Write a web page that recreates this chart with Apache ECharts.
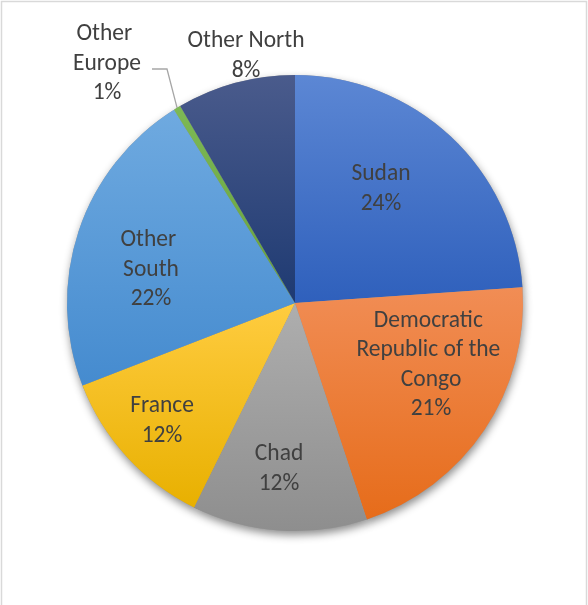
<!DOCTYPE html>
<html><head><meta charset="utf-8">
<script src="https://cdn.jsdelivr.net/npm/echarts@6/dist/echarts.min.js"></script>
<style>html,body{margin:0;padding:0;background:#fff}#c{width:588px;height:605px}</style>
</head><body><div id="c"></div>
<script>
// ---- data ----
const categories = ['Sudan', 'Democratic Republic of the Congo', 'Chad', 'France', 'Other South', 'Other Europe', 'Other North'];
const shares = [23.9, 21.0, 12.4, 11.8, 22.0, 0.5, 8.4];

// ---- styles (kept separate from data) ----
const gradTop    = ['#5C87D4', '#F18D55', '#AEAEAE', '#FFCC40', '#6FAAE0', '#7DB955', '#4A5B8C'];
const gradBottom = ['#2F60BC', '#E66C1A', '#8E8E8E', '#E8B000', '#458BCF', '#65A03D', '#1E3A72'];
const labelWrap  = [null, 155, null, null, 80, 80, null];
const labelOut   = [false, false, false, false, false, true, true];
const labelLineOn = [false, false, false, false, false, true, false];
const labelAnchor = [[381, 189], [431, 365], [279, 469], [162, 421], [151, 270], [107, 64], [246, 56]];

const FONT = 'Carlito, Lato, "Open Sans", sans-serif';
const chart = echarts.init(document.getElementById('c'), null, {renderer: 'canvas'});

const mainData = categories.map((n, i) => ({
  name: n,
  value: shares[i],
  itemStyle: {
    color: {type: 'linear', x: 0, y: 0, x2: 0, y2: 1,
      colorStops: [{offset: 0, color: gradTop[i]}, {offset: 1, color: gradBottom[i]}]}
  },
  label: Object.assign({position: labelOut[i] ? 'outside' : 'inside'},
    labelWrap[i] ? {width: labelWrap[i], overflow: 'break'} : {}),
  labelLine: {show: labelLineOn[i]}
}));
const shadowData = categories.map((n, i) => ({name: n, value: shares[i]}));

chart.setOption({
  animation: false,
  backgroundColor: '#ffffff',
  graphic: [{
    type: 'rect', shape: {x: 1.5, y: 1.5, width: 585, height: 640},
    style: {fill: 'none', stroke: '#D9D9D9', lineWidth: 1.5}, silent: true, z: 0
  }],
  series: [{
    type: 'pie', silent: true, z: 1,
    center: [295, 303], radius: 228, startAngle: 90, clockwise: true,
    label: {show: false}, labelLine: {show: false},
    itemStyle: {color: '#9a9a9a', shadowBlur: 9, shadowOffsetX: 1, shadowOffsetY: 4, shadowColor: 'rgba(0,0,0,0.45)'},
    data: shadowData
  }, {
    type: 'pie', z: 2,
    center: [295, 303], radius: 228, startAngle: 90, clockwise: true,
    avoidLabelOverlap: false,
    percentPrecision: 0,
    itemStyle: {borderWidth: 0},
    label: {
      show: true, formatter: '{b}\n{d}%',
      fontFamily: FONT, fontSize: 23.5, lineHeight: 29.5, color: '#404040', align: 'center'
    },
    labelLine: {lineStyle: {color: '#A6A6A6', width: 1.3}},
    labelLayout: function (p) {
      if (p.seriesIndex !== 1) return {};
      const i = p.dataIndex;
      const a = labelAnchor[i];
      const res = {x: a[0], y: a[1], align: 'center', verticalAlign: 'middle'};
      if (labelLineOn[i] && p.labelLinePoints) {
        const right = a[0] + p.labelRect.width / 2;
        const ly = a[1] + 5;
        res.labelLinePoints = [p.labelLinePoints[0], [right + 20, ly], [right + 5, ly]];
      }
      return res;
    },
    data: mainData
  }]
});
</script></body></html>
